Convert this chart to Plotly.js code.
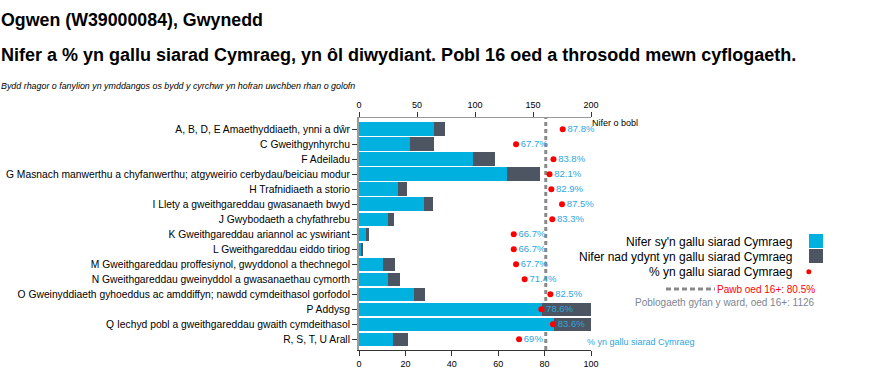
<!DOCTYPE html>
<html>
<head>
<meta charset="utf-8">
<script src="https://cdn.plot.ly/plotly-3.0.1.min.js"></script>
<style>html,body{margin:0;padding:0;background:#fff;}#chart{width:875px;height:376px;}</style>
</head>
<body>
<div id="chart"></div>
<script>
// ---- data ----
const categories = [
  "A, B, D, E Amaethyddiaeth, ynni a dŵr",
  "C Gweithgynhyrchu",
  "F Adeiladu",
  "G Masnach manwerthu a chyfanwerthu; atgyweirio cerbydau/beiciau modur",
  "H Trafnidiaeth a storio",
  "I Llety a gweithgareddau gwasanaeth bwyd",
  "J Gwybodaeth a chyfathrebu",
  "K Gweithgareddau ariannol ac yswiriant",
  "L Gweithgareddau eiddo tiriog",
  "M Gweithgareddau proffesiynol, gwyddonol a thechnegol",
  "N Gweithgareddau gweinyddol a gwasanaethau cymorth",
  "O Gweinyddiaeth gyhoeddus ac amddiffyn; nawdd cymdeithasol gorfodol",
  "P Addysg",
  "Q Iechyd pobl a gweithgareddau gwaith cymdeithasol",
  "R, S, T, U Arall"
];
const speakers    = [65, 44, 98, 128, 34, 56, 25, 6, 2, 21, 25, 47, 158, 168, 29];
const nonSpeakers = [9, 21, 19, 28, 7, 8, 5, 3, 1, 10, 10, 10, 43, 33, 13];
const pctSpeakers = [87.8, 67.7, 83.8, 82.1, 82.9, 87.5, 83.3, 66.7, 66.7, 67.7, 71.4, 82.5, 78.6, 83.6, 69];
const pctLabels   = ["87.8%","67.7%","83.8%","82.1%","82.9%","87.5%","83.3%","66.7%","66.7%","67.7%","71.4%","82.5%","78.6%","83.6%","69%"];
const allPct = 80.5;
const wardTotal = 1126;
const countTicks = [0, 50, 100, 150, 200];
const pctTicks = [0, 20, 40, 60, 80, 100];

const BLUE = '#00b0de', DARK = '#4c5561', TXTBLUE = '#2ea6df';
const FONT = 'Liberation Sans, Arial, sans-serif';

const traces = [
  {type:'bar', orientation:'h', name:"Nifer sy'n gallu siarad Cymraeg",
   x: speakers, y: categories, xaxis:'x', yaxis:'y',
   marker:{color:BLUE}, showlegend:false, hoverinfo:'x+y'},
  {type:'bar', orientation:'h', name:"Nifer nad ydynt yn gallu siarad Cymraeg",
   x: nonSpeakers, y: categories, xaxis:'x', yaxis:'y',
   marker:{color:DARK}, showlegend:false, hoverinfo:'x+y'},
  {type:'scatter', mode:'markers+text', name:'% yn gallu siarad Cymraeg',
   x: pctSpeakers, y: categories, xaxis:'x2', yaxis:'y',
   text: pctLabels, textposition:'middle right',
   textfont:{family:FONT, size:9.5, color:TXTBLUE},
   marker:{color:'#ff0000', size:6}, cliponaxis:false, showlegend:false, hoverinfo:'x+y'}
];

// paper coordinate helpers (plot area: x 359..591, y 118..350)
const L = 359, W = 232, T = 118, H = 232;
const px = v => (v - L) / W;
const py = v => (T + H - v) / H;

const ann = (text, x, y, xanchor, size, color, extra) => Object.assign({
  text, x, y, xref:'paper', yref:'paper', xanchor, yanchor:'middle',
  showarrow:false, font:{family:FONT, size, color}
}, extra || {});

const annotations = [
  ann('<b>Ogwen (W39000084), Gwynedd</b>', px(0), py(20), 'left', 17.8, '#000', {xshift:-1}),
  ann('<b>Nifer a % yn gallu siarad Cymraeg, yn ôl diwydiant. Pobl 16 oed a throsodd mewn cyflogaeth.</b>', px(0), py(55), 'left', 18, '#000', {xshift:-1}),
  ann('<i>Bydd rhagor o fanylion yn ymddangos os bydd y cyrchwr yn hofran uwchben rhan o golofn</i>', px(0), py(86), 'left', 8.9, '#000', {xshift:-1}),
  ann('Nifer o bobl', px(590), py(123), 'left', 9, '#000'),
  ann('% yn gallu siarad Cymraeg', px(585), py(342), 'left', 9, TXTBLUE),
  ann("Nifer sy'n gallu siarad Cymraeg", px(794), py(241.5), 'right', 12, '#000'),
  ann('Nifer nad ydynt yn gallu siarad Cymraeg', px(794), py(256.5), 'right', 12, '#000'),
  ann('% yn gallu siarad Cymraeg', px(794), py(271.5), 'right', 12, '#000'),
  ann('Pawb oed 16+: ' + allPct + '%', px(817), py(289), 'right', 10, '#ff0000'),
  ann('Poblogaeth gyfan y ward, oed 16+: ' + wardTotal, px(817), py(302), 'right', 10, '#7c8594')
];

const shapes = [
  {type:'line', xref:'x2', yref:'paper', x0:allPct, x1:allPct, y0:0, y1:1,
   line:{color:'#8a8a8a', width:3, dash:'4px,3px'}, layer:'below'},
  {type:'rect', xref:'paper', yref:'paper', x0:px(809), x1:px(823), y0:py(234), y1:py(248),
   fillcolor:BLUE, line:{width:0}},
  {type:'rect', xref:'paper', yref:'paper', x0:px(809), x1:px(823), y0:py(249), y1:py(263),
   fillcolor:DARK, line:{width:0}},
  {type:'circle', xref:'paper', yref:'paper', x0:px(806.3), x1:px(811.3), y0:py(269.2), y1:py(274.2),
   fillcolor:'#ff0000', line:{width:0}},
  {type:'line', xref:'paper', yref:'paper', x0:px(666), x1:px(715), y0:py(289), y1:py(289),
   line:{color:'#8a8a8a', width:3, dash:'5px,3px'}}
];

const layout = {
  width:875, height:376,
  margin:{l:359, r:284, t:118, b:26, pad:0},
  paper_bgcolor:'#fff', plot_bgcolor:'#fff',
  font:{family:FONT, color:'#000'},
  barmode:'stack', bargap:0.1,
  showlegend:false,
  xaxis:{range:[0,200], tickvals:countTicks, ticktext:countTicks.map(String), side:'top',
         showline:true, linecolor:'#999', linewidth:1, ticks:'outside', ticklen:5, tickcolor:'#333',
         showgrid:false, zeroline:false, tickfont:{family:FONT, size:9, color:'#000'}, fixedrange:true},
  xaxis2:{range:[0,100], tickvals:pctTicks, ticktext:pctTicks.map(String), side:'bottom', overlaying:'x',
         showline:true, linecolor:'#333', linewidth:1, ticks:'outside', ticklen:5, tickcolor:'#333',
         showgrid:false, zeroline:false, tickfont:{family:FONT, size:9, color:'#000'}, fixedrange:true},
  yaxis:{type:'category', categoryarray:categories, range:[14.713,-0.747], autorange:false,
         showline:true, linecolor:'#9a9a9a', linewidth:2, ticks:'outside', ticklen:5, tickcolor:'#333',
         showgrid:false, zeroline:false, tickfont:{family:FONT, size:10.3, color:'#000'}, fixedrange:true},
  annotations, shapes
};

Plotly.newPlot('chart', traces, layout, {displayModeBar:false});
</script>
</body>
</html>
